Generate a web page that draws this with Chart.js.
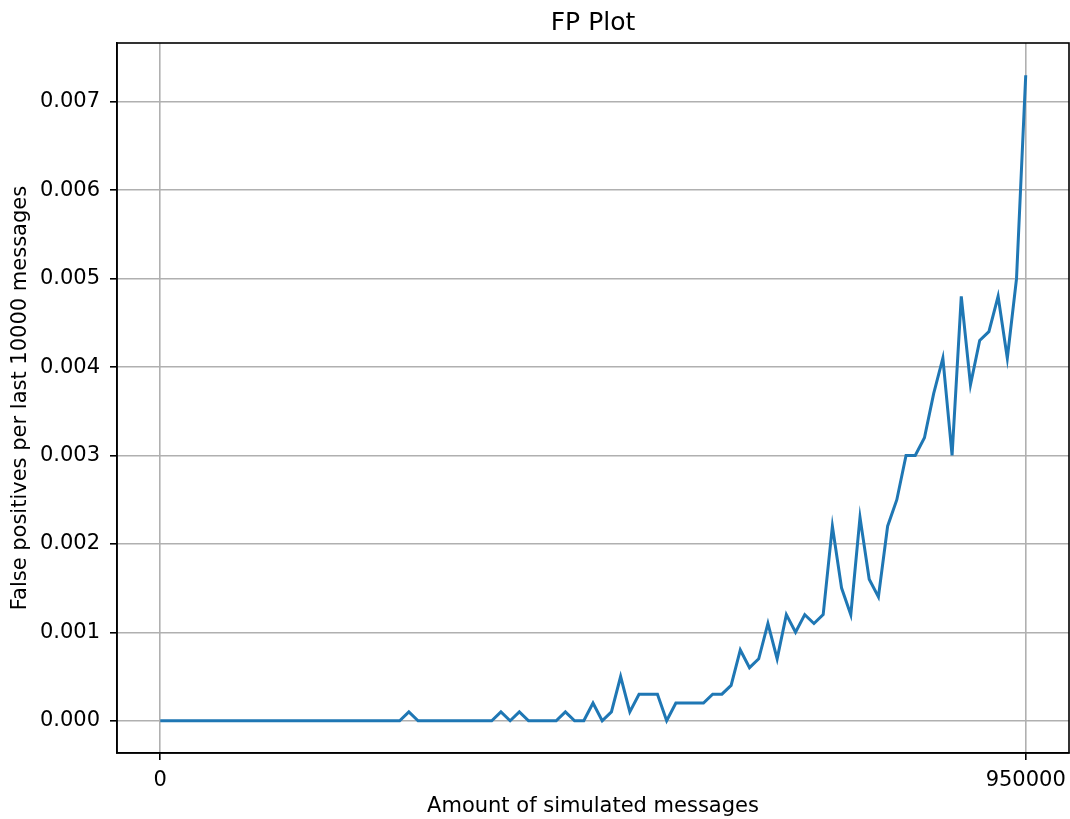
<!DOCTYPE html>
<html>
<head>
<meta charset="utf-8">
<title>FP Plot</title>
<script src="https://cdn.jsdelivr.net/npm/chart.js@4/dist/chart.umd.min.js"></script>
<style>
  html, body { margin: 0; padding: 0; background: #fff; }
  #wrap { width: 1070px; height: 819px; position: relative; }
</style>
</head>
<body>
<div id="wrap"><canvas id="fpChart"></canvas></div>
<script>
// False positives measured over the last 10000 messages, one sample per step
const fpRate = [
    0, 0, 0, 0, 0, 0, 0, 0, 0, 0,
    0, 0, 0, 0, 0, 0, 0, 0, 0, 0,
    0, 0, 0, 0, 0, 0, 0, 0.0001, 0, 0,
    0, 0, 0, 0, 0, 0, 0, 0.0001, 0, 0.0001,
    0, 0, 0, 0, 0.0001, 0, 0, 0.0002, 0, 0.0001,
    0.0005, 0.0001, 0.0003, 0.0003, 0.0003, 0, 0.0002, 0.0002, 0.0002, 0.0002,
    0.0003, 0.0003, 0.0004, 0.0008, 0.0006, 0.0007, 0.0011, 0.0007, 0.0012, 0.001,
    0.0012, 0.0011, 0.0012, 0.0022, 0.0015, 0.0012, 0.0023, 0.0016, 0.0014, 0.0022,
    0.0025, 0.003, 0.003, 0.0032, 0.0037, 0.0041, 0.003, 0.0048, 0.0038, 0.0043,
    0.0044, 0.0048, 0.0041, 0.005, 0.0073
];
const lastCount = 950000; // messages simulated at the final sample
const xTicks = [0, 950000];
const yTicks = [0, 0.001, 0.002, 0.003, 0.004, 0.005, 0.006, 0.007];

// samples are evenly spread from 0 up to lastCount
const messageCounts = fpRate.map((_, i) => i * lastCount / (fpRate.length - 1));
const points = fpRate.map((v, i) => ({ x: messageCounts[i], y: v }));

// matplotlib style 5% margins round the data
const xPad = (lastCount - 0) * 0.05;
const yMaxVal = Math.max(...fpRate);
const yPad = yMaxVal * 0.05;

Chart.defaults.font.family = 'DejaVu Sans';
Chart.defaults.color = '#000';

// black frame on all four sides of the plot
const frame = {
    id: 'frame',
    afterDraw(chart) {
        const { ctx, chartArea: a } = chart;
        ctx.save();
        ctx.strokeStyle = '#000';
        ctx.lineWidth = 1.6;
        ctx.strokeRect(a.left, a.top, a.right - a.left, a.bottom - a.top);
        ctx.restore();
    }
};

new Chart(document.getElementById('fpChart'), {
    type: 'line',
    data: {
        datasets: [{
            data: points,
            borderColor: '#1f77b4',
            borderWidth: 3,
            pointRadius: 0,
            tension: 0,
            fill: false
        }]
    },
    options: {
        responsive: true,
        maintainAspectRatio: false,
        animation: false,
        layout: { padding: { left: 0, right: 1, top: 0, bottom: 0 } },
        plugins: {
            legend: { display: false },
            tooltip: { enabled: false },
            title: {
                display: true,
                text: 'FP Plot',
                fullSize: false,
                font: { size: 25, weight: 'normal' },
                color: '#000',
                padding: { top: 8, bottom: 5 }
            }
        },
        scales: {
            x: {
                type: 'linear',
                min: -xPad,
                max: lastCount + xPad,
                afterFit(scale) {
                    scale.height = 66;
                    scale.paddingLeft = 0;
                    scale.paddingRight = 0;
                },
                afterBuildTicks(scale) { scale.ticks = xTicks.map(v => ({ value: v })); },
                ticks: {
                    font: { size: 21 },
                    padding: 8,
                    maxRotation: 0,
                    callback: v => String(v)
                },
                grid: {
                    color: '#b0b0b0',
                    lineWidth: 1.6,
                    tickColor: '#000',
                    tickLength: 7,
                    tickWidth: 1.6
                },
                border: { color: '#000', width: 1.6 },
                title: {
                    display: true,
                    text: 'Amount of simulated messages',
                    font: { size: 21 },
                    padding: { top: 0, bottom: 0 }
                }
            },
            y: {
                type: 'linear',
                min: -yPad,
                max: yMaxVal + yPad,
                afterFit(scale) {
                    scale.width = 117;
                    scale.paddingTop = 0;
                    scale.paddingBottom = 0;
                },
                afterBuildTicks(scale) { scale.ticks = yTicks.map(v => ({ value: v })); },
                ticks: {
                    font: { size: 21 },
                    padding: 10,
                    callback: v => v.toFixed(3)
                },
                grid: {
                    color: '#b0b0b0',
                    lineWidth: 1.6,
                    tickColor: '#000',
                    tickLength: 7,
                    tickWidth: 1.6
                },
                border: { color: '#000', width: 1.6 },
                title: {
                    display: true,
                    text: 'False positives per last 10000 messages',
                    font: { size: 21 },
                    padding: { top: 8, bottom: 0 }
                }
            }
        }
    },
    plugins: [frame]
});
</script>
</body>
</html>
